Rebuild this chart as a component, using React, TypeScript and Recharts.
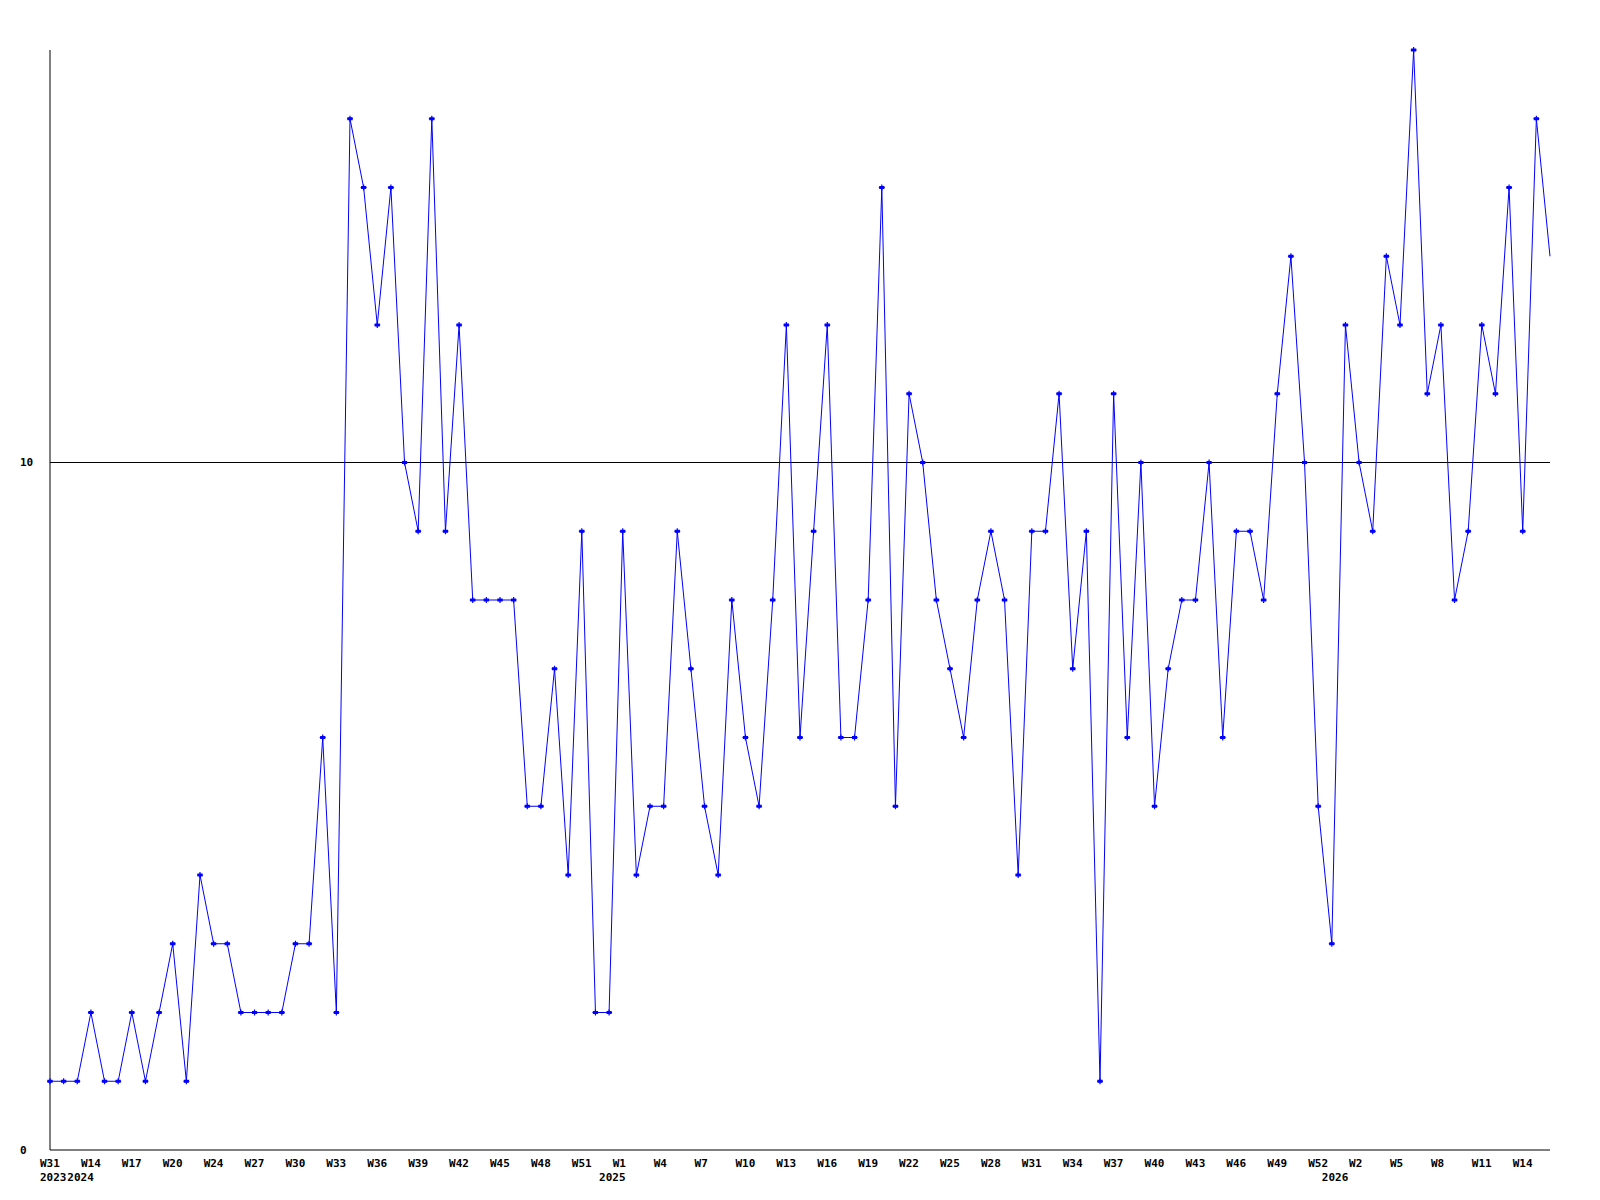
import React from 'react';
import { LineChart, Line, XAxis, YAxis, ReferenceLine } from 'recharts';

// week labels, one per point (only every 3rd is printed)
const weeks = [
  'W31', 'W32', 'W33', 'W14', 'W15', 'W16', 'W17', 'W18', 'W19', 'W20',
  'W21', 'W23', 'W24', 'W25', 'W26', 'W27', 'W28', 'W29', 'W30', 'W31',
  'W32', 'W33', 'W34', 'W35', 'W36', 'W37', 'W38', 'W39', 'W40', 'W41',
  'W42', 'W43', 'W44', 'W45', 'W46', 'W47', 'W48', 'W49', 'W50', 'W51',
  'W52', 'W53', 'W1', 'W2', 'W3', 'W4', 'W5', 'W6', 'W7', 'W8',
  'W9', 'W10', 'W11', 'W12', 'W13', 'W14', 'W15', 'W16', 'W17', 'W18',
  'W19', 'W20', 'W21', 'W22', 'W23', 'W24', 'W25', 'W26', 'W27', 'W28',
  'W29', 'W30', 'W31', 'W32', 'W33', 'W34', 'W35', 'W36', 'W37', 'W38',
  'W39', 'W40', 'W41', 'W42', 'W43', 'W44', 'W45', 'W46', 'W47', 'W48',
  'W49', 'W50', 'W51', 'W52', 'W53', 'W1', 'W2', 'W3', 'W4', 'W5',
  'W6', 'W7', 'W8', 'W9', 'W10', 'W11', 'W12', 'W13', 'W14', 'W15',
  'W16',
];

const values = [
  1, 1, 1, 2, 1, 1, 2, 1, 2, 3,
  1, 4, 3, 3, 2, 2, 2, 2, 3, 3,
  6, 2, 15, 14, 12, 14, 10, 9, 15, 9,
  12, 8, 8, 8, 8, 5, 5, 7, 4, 9,
  2, 2, 9, 4, 5, 5, 9, 7, 5, 4,
  8, 6, 5, 8, 12, 6, 9, 12, 6, 6,
  8, 14, 5, 11, 10, 8, 7, 6, 8, 9,
  8, 4, 9, 9, 11, 7, 9, 1, 11, 6,
  10, 5, 7, 8, 8, 10, 6, 9, 9, 8,
  11, 13, 10, 5, 3, 12, 10, 9, 13, 12,
  16, 11, 12, 8, 9, 12, 11, 14, 9, 15,
  13,
];

const yearLabels = ['2023', '2024', '2025', '2026'];
const yearIndex = [0, 2, 41, 94];

const yTicks = [0, 10];

const data = weeks.map((w, i) => ({ week: i, label: w, value: values[i] }));

const font = {
  fontFamily: '"DejaVu Sans Mono", monospace',
  fontSize: 11,
  fontWeight: 'bold' as const,
  fill: '#000',
};

const WeekTick = (props: any) => {
  const { x, y, payload } = props;
  const i = payload.value as number;
  const yi = yearIndex.indexOf(i);
  return (
    <g>
      {i % 3 === 0 && (
        <text x={x - 10} y={y + 13} textAnchor="start" dominantBaseline="central" {...font}>
          {weeks[i]}
        </text>
      )}
      {yi >= 0 && (
        <text x={x - 10} y={y + 27} textAnchor="start" dominantBaseline="central" {...font}>
          {yearLabels[yi]}
        </text>
      )}
    </g>
  );
};

const ValueTick = (props: any) => {
  const { x, y, payload } = props;
  return (
    <text x={x} y={y} textAnchor="start" dominantBaseline="central" {...font}>
      {payload.value}
    </text>
  );
};

const Marker = (props: any) => {
  const { cx, cy, index } = props;
  if (index === values.length - 1 || cx == null) return <g key={index} />;
  return (
    <path
      key={index}
      d={`M${cx - 3},${cy} L${cx + 3},${cy} M${cx},${cy - 3} L${cx},${cy + 3} M${cx - 2},${cy - 1} h4 v2 h-4 Z`}
      stroke="#0000ff"
      strokeWidth={1.2}
      fill="#0000ff"
    />
  );
};

const App = () => {
  return (
    <div style={{ position: 'absolute', left: 0, top: 0, width: 1600, height: 1200, background: '#fff' }}>
      <LineChart width={1600} height={1200} data={data} margin={{ top: 50, right: 50, left: 0, bottom: 20 }}>
        <XAxis
          dataKey="week"
          type="category"
          interval={0}
          height={30}
          tickSize={0}
          tickMargin={0}
          tick={<WeekTick />}
          axisLine={{ stroke: '#000', strokeWidth: 1 }}
          tickLine={false}
        />
        <YAxis
          domain={[0, 16]}
          ticks={yTicks}
          width={50}
          tickSize={0}
          tickMargin={30}
          tick={<ValueTick />}
          axisLine={{ stroke: '#000', strokeWidth: 1 }}
          tickLine={false}
        />
        <ReferenceLine y={10} stroke="#000" strokeWidth={1} />
        <Line
          type="linear"
          dataKey="value"
          stroke="#0000ff"
          strokeWidth={1}
          dot={<Marker />}
          activeDot={false}
          isAnimationActive={false}
        />
      </LineChart>
    </div>
  );
};

export default App;
